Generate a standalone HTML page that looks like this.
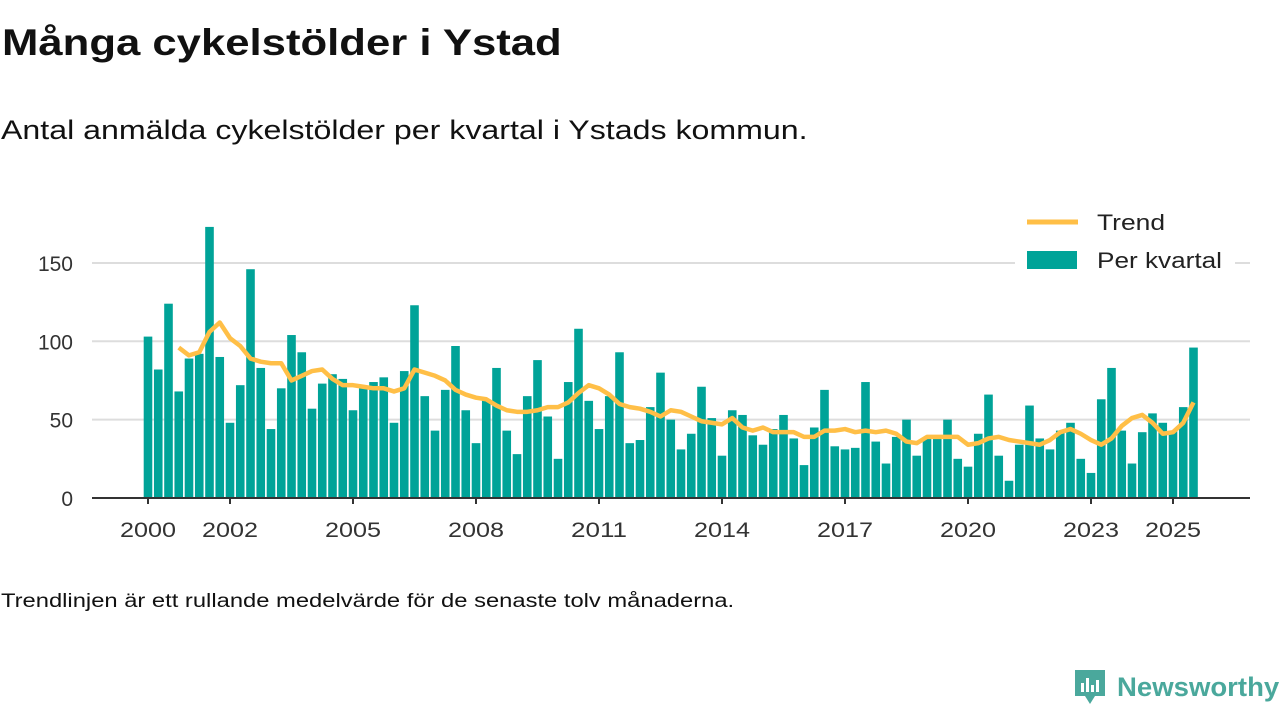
<!DOCTYPE html>
<html><head><meta charset="utf-8"><style>
body{margin:0;width:1280px;height:720px;background:#fff;font-family:"Liberation Sans","DejaVu Sans",sans-serif;color:#111;position:relative;overflow:hidden}
.t{position:absolute;left:2px;top:22px;font-size:37px;font-weight:bold;margin:0;transform:scaleX(1.18);transform-origin:0 0;white-space:nowrap}
.s{position:absolute;left:1px;top:115px;font-size:27px;transform:scaleX(1.19);transform-origin:0 0;white-space:nowrap}
.f{position:absolute;left:1px;top:591px;font-size:19px;transform:scaleX(1.25);transform-origin:0 0;white-space:nowrap}
svg{position:absolute;left:0;top:0}
</style></head><body>
<h1 class="t">Många cykelstölder i Ystad</h1>
<div class="s">Antal anmälda cykelstölder per kvartal i Ystads kommun.</div>
<div class="f">Trendlinjen är ett rullande medelvärde för de senaste tolv månaderna.</div>
<svg id="c" width="1280" height="720"></svg>
<div style="position:absolute;left:1073px;top:668px;display:flex;align-items:center">
<svg width="34" height="38" style="position:static"><path d="M2 2h30v26h-10l-5 8-5-8H2z" fill="#4aa89c"/><rect x="8" y="15" width="3" height="9" fill="#fff"/><rect x="13" y="10" width="3" height="14" fill="#fff"/><rect x="18" y="17" width="3" height="7" fill="#fff"/><rect x="23" y="12" width="3" height="12" fill="#fff"/></svg>
<span style="font-size:27px;font-weight:bold;color:#4aa89c;margin-left:10px;display:inline-block;transform:scaleX(1.02);transform-origin:0 0">Newsworthy</span></div>
<script>
const quarters=103;
const startYear=2000;
const barValues=[103,82,124,68,89,92,173,90,48,72,146,83,44,70,104,93,57,73,79,76,56,70,74,77,48,81,123,65,43,69,97,56,35,63,83,43,28,65,88,52,25,74,108,62,44,65,93,35,37,58,80,50,31,41,71,51,27,56,53,40,34,44,53,38,21,45,69,33,31,32,74,36,22,39,50,27,38,39,50,25,20,41,66,27,11,34,59,38,31,43,48,25,16,63,83,43,22,42,54,48,43,58,96];
const trendStart=3;
const trendValues=[96,91,93,106,112,102,97,89,87,86,86,75,78,81,82,76,72,72,71,70,70,68,70,82,80,78,75,69,66,64,63,59,56,55,55,56,58,58,61,67,72,70,66,60,58,57,55,52,56,55,52,49,48,47,51,45,43,45,42,42,42,39,39,43,43,44,42,43,42,43,41,36,35,39,39,39,39,34,35,38,39,37,36,35,34,37,42,44,41,37,34,38,46,51,53,48,41,42,48,61];
const yTicks=[0,50,100,150];
const xTickYears=[2000,2002,2005,2008,2011,2014,2017,2020,2023,2025];
const NS="http://www.w3.org/2000/svg",svg=document.getElementById('c');
const x0=148,qw=10.25,y0=498,ys=1.567;
const X=i=>x0+i*qw, Y=v=>y0-v*ys;
function mk(t,a){const e=document.createElementNS(NS,t);for(const k in a)e.setAttribute(k,a[k]);svg.appendChild(e);return e;}
yTicks.forEach(v=>{
 if(v>0){const g=mk('line',{x1:92,x2:1250,y1:Y(v),y2:Y(v),stroke:'#ddd','stroke-width':2});
 
 }
 const t=mk('text',{x:73,y:Y(v)+8,'text-anchor':'end','font-size':21,fill:'#333','font-family':'Liberation Sans, sans-serif'});t.textContent=v;
 
 
});
barValues.forEach((v,i)=>{
 const r=mk('rect',{x:X(i)-4.3,y:Y(v),width:8.6,height:v*ys,fill:'#00a398'});
 
 
});
const ax=mk('line',{x1:92,x2:1250,y1:y0,y2:y0,stroke:'#333','stroke-width':2});


xTickYears.forEach(yr=>{
 const xx=X((yr-startYear)*4);
 const tk=mk('line',{x1:xx,x2:xx,y1:y0,y2:y0+6,stroke:'#333','stroke-width':2});
 
 
 const t=mk('text',{x:xx,y:537,'text-anchor':'middle','font-size':21,fill:'#333','font-family':'Liberation Sans, sans-serif',textLength:56,lengthAdjust:'spacingAndGlyphs'});t.textContent=yr;
 
 
});
const pts=trendValues.map((v,i)=>X(i+trendStart)+','+Y(v)).join(' ');
const pl=mk('polyline',{points:pts,fill:'none',stroke:'#ffbf47','stroke-width':4.5,'stroke-linejoin':'round'});


const lb=mk('rect',{x:1015,y:246,width:220,height:32,fill:'#fff'});


const l1=mk('line',{x1:1027,x2:1078,y1:222,y2:222,stroke:'#ffbf47','stroke-width':5});


const t1=mk('text',{x:1097,y:230,'font-size':22,fill:'#222','font-family':'Liberation Sans, sans-serif',textLength:68,lengthAdjust:'spacingAndGlyphs'});t1.textContent='Trend';


const l2=mk('rect',{x:1027,y:251,width:50,height:18,fill:'#00a398'});


const t2=mk('text',{x:1097,y:268,'font-size':22,fill:'#222','font-family':'Liberation Sans, sans-serif',textLength:125,lengthAdjust:'spacingAndGlyphs'});t2.textContent='Per kvartal';


</script>
</body></html>
